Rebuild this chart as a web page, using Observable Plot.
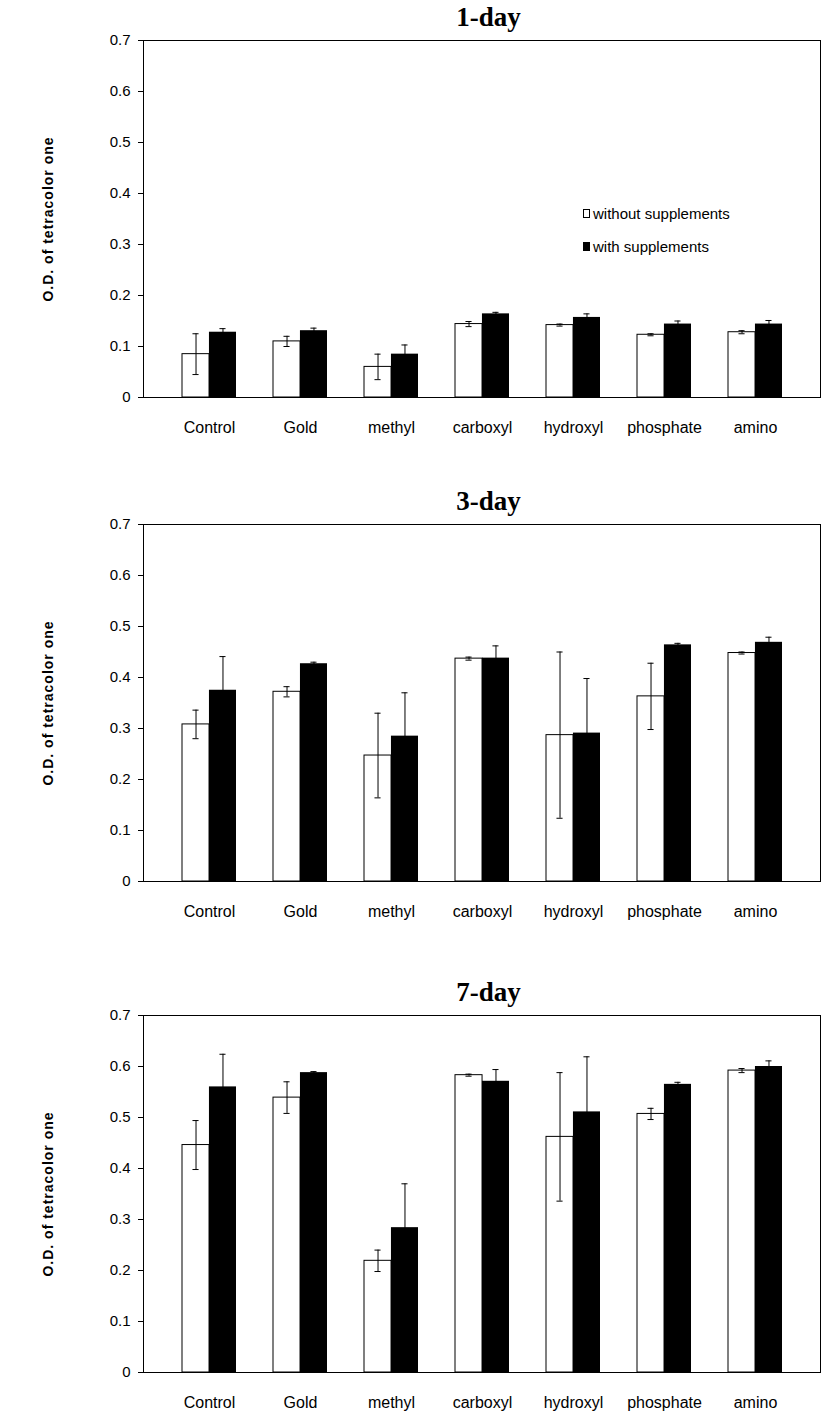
<!DOCTYPE html>
<html>
<head>
<meta charset="utf-8">
<script src="https://cdn.jsdelivr.net/npm/d3@7"></script>
<script src="https://cdn.jsdelivr.net/npm/@observablehq/plot@0.6"></script>
<style>
  html, body { margin: 0; padding: 0; background: #fff; }
  body { width: 827px; height: 1422px; position: relative; overflow: hidden; font-family: "Liberation Sans", Arial, sans-serif; }
  .panel { position: absolute; left: 0; width: 827px; }
  .title { height: 30px; text-align: center; font-family: "Liberation Serif", "Times New Roman", serif; font-weight: bold; font-size: 27px; line-height: 34px; padding-left: 150px; box-sizing: border-box; }
  .legend { position: absolute; font-size: 15px; color: #000; }
  .legend .row { display: flex; align-items: center; height: 20px; margin-bottom: 13px; }
  .legend .sw { width: 7px; height: 9px; border: 1px solid #000; margin-right: 3px; box-sizing: border-box; }
</style>
</head>
<body>
<script>
// ---- data ----
const categories = ["Control", "Gold", "methyl", "carboxyl", "hydroxyl", "phosphate", "amino"];
const seriesNames = ["without supplements", "with supplements"];
const yTicks = [0, 0.1, 0.2, 0.3, 0.4, 0.5, 0.6, 0.7];
const yTitle = "O.D. of tetracolor one";
const panelTitles = ["1-day", "3-day", "7-day"];

const day1Without    = [0.085, 0.110, 0.060, 0.144, 0.142, 0.123, 0.128];
const day1WithoutErr = [0.040, 0.010, 0.025, 0.005, 0.002, 0.002, 0.003];
const day1With       = [0.128, 0.131, 0.085, 0.164, 0.157, 0.144, 0.144];
const day1WithErr    = [0.007, 0.005, 0.018, 0.003, 0.007, 0.006, 0.007];

const day3Without    = [0.308, 0.372, 0.247, 0.437, 0.287, 0.363, 0.448];
const day3WithoutErr = [0.028, 0.010, 0.083, 0.003, 0.163, 0.065, 0.002];
const day3With       = [0.375, 0.427, 0.285, 0.438, 0.291, 0.464, 0.469];
const day3WithErr    = [0.066, 0.003, 0.085, 0.024, 0.107, 0.003, 0.010];

const day7Without    = [0.446, 0.539, 0.219, 0.583, 0.462, 0.507, 0.592];
const day7WithoutErr = [0.048, 0.031, 0.021, 0.002, 0.126, 0.011, 0.004];
const day7With       = [0.560, 0.588, 0.284, 0.571, 0.511, 0.565, 0.600];
const day7WithErr    = [0.064, 0.002, 0.086, 0.023, 0.108, 0.004, 0.011];

const panels = [
  {title: panelTitles[0], w: day1Without, we: day1WithoutErr, b: day1With, be: day1WithErr, top: 0, legend: true},
  {title: panelTitles[1], w: day3Without, we: day3WithoutErr, b: day3With, be: day3WithErr, top: 484},
  {title: panelTitles[2], w: day7Without, we: day7WithoutErr, b: day7With, be: day7WithErr, top: 975}
];

// ---- layout ----
const W = 827, ML = 143, MR = 7, MT = 10, MB = 50, PH = 357;
const PAD = 0.41;
const step = (W - ML - MR) / (categories.length + PAD);
const bw = step * (1 - PAD);

function rows(vals, errs, s) {
  return categories.map((c, i) => ({cat: c, series: s, v: vals[i], e: errs[i]}));
}

for (const p of panels) {
  const div = document.createElement("div");
  div.className = "panel";
  div.style.top = p.top + "px";
  const t = document.createElement("div");
  t.className = "title";
  t.textContent = p.title;
  div.appendChild(t);

  const without = rows(p.w, p.we, seriesNames[0]);
  const withS = rows(p.b, p.be, seriesNames[1]);
  const capW = 3;

  const chart = Plot.plot({
    width: W,
    height: MT + PH + MB,
    marginLeft: ML, marginRight: MR, marginTop: MT, marginBottom: MB,
    style: {fontSize: "15px", fontFamily: "'Liberation Sans', Arial, sans-serif", color: "#000", background: "#fff"},
    x: {type: "band", domain: categories, padding: PAD, label: null, tickSize: 0, tickPadding: 24},
    y: {domain: [0, 0.7], ticks: yTicks, tickFormat: d => d === 0 ? "0" : d.toFixed(1),
        label: yTitle, labelAnchor: "center", labelArrow: "none", labelOffset: 100, tickSize: 5, tickPadding: 8},
    marks: [
      Plot.barY(without, {x: "cat", y: "v", fill: "white", stroke: "black", strokeWidth: 1, insetRight: bw / 2}),
      Plot.barY(withS, {x: "cat", y: "v", fill: "black", insetLeft: bw / 2}),
      Plot.ruleX(without, {x: "cat", y1: d => d.v - d.e, y2: d => d.v + d.e, dx: -bw / 4, stroke: "black", strokeWidth: 1}),
      Plot.ruleX(withS, {x: "cat", y1: d => d.v - d.e, y2: d => d.v + d.e, dx: bw / 4, stroke: "black", strokeWidth: 1}),
      Plot.tickY(without, {x: "cat", y: d => d.v + d.e, insetLeft: bw / 4 - capW, insetRight: 3 * bw / 4 - capW, stroke: "black"}),
      Plot.tickY(without, {x: "cat", y: d => d.v - d.e, insetLeft: bw / 4 - capW, insetRight: 3 * bw / 4 - capW, stroke: "black"}),
      Plot.tickY(withS, {x: "cat", y: d => d.v + d.e, insetLeft: 3 * bw / 4 - capW, insetRight: bw / 4 - capW, stroke: "black"}),
      Plot.frame({stroke: "black", strokeWidth: 1})
    ]
  });
  // style the y-axis title like the original (bold, spaced, no arrow)
  chart.querySelectorAll("text").forEach(el => {
    if (el.textContent.includes("tetracolor")) {
      el.textContent = yTitle;
      el.setAttribute("font-weight", "bold");
      el.setAttribute("letter-spacing", "1");
      el.setAttribute("font-size", "14");
    }
  });
  chart.querySelectorAll('g[aria-label="x-axis tick label"] text').forEach(el => {
    el.setAttribute("font-size", "16");
  });
  div.appendChild(chart);

  if (p.legend) {
    const lg = document.createElement("div");
    lg.className = "legend";
    lg.style.left = "583px";
    lg.style.top = "203px";
    seriesNames.forEach((name, i) => {
      const r = document.createElement("div");
      r.className = "row";
      const sw = document.createElement("span");
      sw.className = "sw";
      sw.style.background = i === 0 ? "#fff" : "#000";
      const tx = document.createElement("span");
      tx.textContent = name;
      r.appendChild(sw); r.appendChild(tx);
      lg.appendChild(r);
    });
    div.appendChild(lg);
  }
  document.body.appendChild(div);
}
</script>
</body>
</html>
